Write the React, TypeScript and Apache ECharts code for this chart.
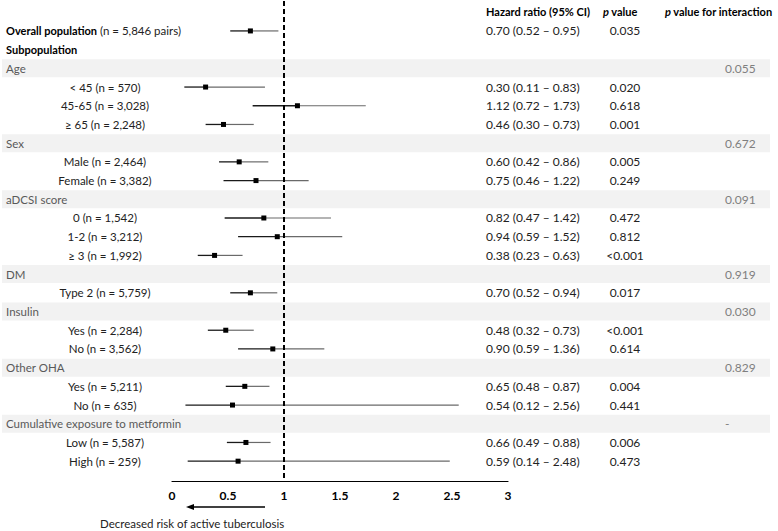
import React, { useEffect, useRef } from "react";
import * as echarts from "echarts";

// ---- data ----
const rowLabels: string[] = [
  "",
  "{b|Overall population}{n| (n = 5,846 pairs)}",
  "{b|Subpopulation}",
  "Age",
  "< 45 (n = 570)",
  "45-65 (n = 3,028)",
  "≥ 65 (n = 2,248)",
  "Sex",
  "Male (n = 2,464)",
  "Female (n = 3,382)",
  "aDCSI score",
  "0 (n = 1,542)",
  "1-2 (n = 3,212)",
  "≥ 3 (n = 1,992)",
  "DM",
  "Type 2 (n = 5,759)",
  "Insulin",
  "Yes (n = 2,284)",
  "No (n = 3,562)",
  "Other OHA",
  "Yes (n = 5,211)",
  "No (n = 635)",
  "Cumulative exposure to metformin",
  "Low (n = 5,587)",
  "High (n = 259)",
];
const rowTypes: string[] = [
  "header", "overall", "title",
  "group", "sub", "sub", "sub",
  "group", "sub", "sub",
  "group", "sub", "sub", "sub",
  "group", "sub",
  "group", "sub", "sub",
  "group", "sub", "sub",
  "group", "sub", "sub",
];
const hr: (number | null)[] = [null, 0.70, null, null, 0.30, 1.12, 0.46, null, 0.60, 0.75, null, 0.82, 0.94, 0.38, null, 0.70, null, 0.48, 0.90, null, 0.65, 0.54, null, 0.66, 0.59];
const lo: (number | null)[] = [null, 0.52, null, null, 0.11, 0.72, 0.30, null, 0.42, 0.46, null, 0.47, 0.59, 0.23, null, 0.52, null, 0.32, 0.59, null, 0.48, 0.12, null, 0.49, 0.14];
const hi: (number | null)[] = [null, 0.95, null, null, 0.83, 1.73, 0.73, null, 0.86, 1.22, null, 1.42, 1.52, 0.63, null, 0.94, null, 0.73, 1.36, null, 0.87, 2.56, null, 0.88, 2.48];
const pValues: (string | null)[] = [null, "0.035", null, null, "0.020", "0.618", "0.001", null, "0.005", "0.249", null, "0.472", "0.812", "<0.001", null, "0.017", null, "<0.001", "0.614", null, "0.004", "0.441", null, "0.006", "0.473"];
const interactionP: (string | null)[] = [null, null, null, "0.055", null, null, null, "0.672", null, null, "0.091", null, null, null, "0.919", null, "0.030", null, null, "0.829", null, null, "-", null, null];
const xTicks: number[] = [0, 0.5, 1, 1.5, 2, 2.5, 3];
const headerHR = "Hazard ratio (95% CI)";
const headerP = "{i|p} value";
const headerInter = "{i|p} value for interaction";
const footnote = "Decreased risk of active tuberculosis";

const FONT = "Lato, 'Noto Sans', sans-serif";
const FS_NUM = 12;
const FS_LAB = 11.5;
const FS_BOLD = 11;

export default function App() {
  const ref = useRef<HTMLDivElement>(null);
  useEffect(() => {
    if (!ref.current) return;
    const chart = echarts.init(ref.current, undefined, { renderer: "svg" });

    const forestData = hr
      .map((v, i) => (v == null ? null : [i, v, lo[i], hi[i]]))
      .filter((d) => d != null);
    const bandData = rowTypes.map((t, i) => (t === "group" ? [i] : null)).filter((d) => d != null);
    const textData = rowLabels.map((_, i) => [i]);

    const rich = {
      b: { fontWeight: "bold", fontFamily: FONT, fontSize: FS_BOLD, fill: "#000" },
      n: { fontFamily: FONT, fontSize: FS_LAB, fill: "#222" },
      i: { fontWeight: "bold", fontStyle: "italic", fontFamily: FONT, fontSize: FS_BOLD, fill: "#000" },
    } as any;

    chart.setOption({
      animation: false,
      grid: { left: 172, width: 336, top: 1, height: 480 },
      xAxis: {
        type: "value",
        min: 0,
        max: 3,
        interval: 0.5,
        axisLine: { show: true, onZero: false, lineStyle: { color: "#000", width: 1.2 } },
        axisTick: { show: false },
        splitLine: { show: false },
        axisLabel: {
          margin: 8,
          fontWeight: "bold",
          fontFamily: FONT,
          fontSize: 12,
          color: "#000",
          formatter: (v: number) => (xTicks.includes(v) ? String(v) : ""),
        },
      },
      yAxis: {
        type: "value",
        inverse: true,
        min: -0.6,
        max: 25.06,
        show: false,
      },
      series: [
        {
          type: "custom",
          z: 1,
          data: bandData,
          renderItem: (params: any, api: any) => {
            const y = api.coord([0, api.value(0)])[1];
            return {
              type: "rect",
              shape: { x: 2, y: y - 9, width: 768, height: 18 },
              style: { fill: "#f2f2f2" },
            };
          },
        },
        {
          type: "custom",
          z: 3,
          data: forestData,
          renderItem: (params: any, api: any) => {
            const row = api.value(0);
            const p = api.coord([api.value(1), row]);
            const pl = api.coord([api.value(2), row]);
            const pu = api.coord([api.value(3), row]);
            return {
              type: "group",
              children: [
                {
                  type: "line",
                  shape: { x1: p[0], y1: p[1], x2: pu[0], y2: pu[1] },
                  style: { stroke: "#6a6a6a", lineWidth: 1.2 },
                },
                {
                  type: "line",
                  shape: { x1: pl[0], y1: pl[1], x2: p[0], y2: p[1] },
                  style: { stroke: "#1a1a1a", lineWidth: 1.3 },
                },
                {
                  type: "rect",
                  shape: { x: p[0] - 2.5, y: p[1] - 2.5, width: 5, height: 5 },
                  style: { fill: "#000" },
                },
              ],
            };
          },
          markLine: {
            silent: true,
            symbol: "none",
            label: { show: false },
            lineStyle: { color: "#000", width: 2, type: [5, 3] },
            data: [{ xAxis: 1 }],
          },
        },
        {
          type: "custom",
          z: 4,
          data: textData,
          renderItem: (params: any, api: any) => {
            const i = api.value(0);
            const y = api.coord([0, i])[1];
            const t = rowTypes[i];
            const children: any[] = [];
            const num = { fontFamily: FONT, fontSize: FS_NUM, verticalAlign: "middle" };
            const lab = { fontFamily: FONT, fontSize: FS_LAB, verticalAlign: "middle" };
            const hd = { fontFamily: FONT, fontSize: FS_BOLD, fontWeight: "bold", verticalAlign: "middle", fill: "#000" };
            if (t === "header") {
              children.push({ type: "text", style: { ...hd, text: headerHR, x: 486, y: y - 1, align: "left" } });
              children.push({ type: "text", style: { ...hd, text: headerP, rich, x: 603, y: y - 1, align: "left" } });
              children.push({ type: "text", style: { ...hd, text: headerInter, rich, x: 665, y: y - 1, align: "left" } });
            } else if (t === "overall" || t === "title") {
              children.push({ type: "text", style: { ...lab, text: rowLabels[i], rich, x: 6, y, fill: "#222", align: "left" } });
            } else if (t === "group") {
              children.push({ type: "text", style: { ...lab, text: rowLabels[i], x: 6, y, fill: "#595959", align: "left" } });
            } else {
              children.push({ type: "text", style: { ...lab, text: rowLabels[i], x: 105, y, fill: "#222", align: "center" } });
            }
            if (hr[i] != null) {
              const s = `${(hr[i] as number).toFixed(2)} (${(lo[i] as number).toFixed(2)} – ${(hi[i] as number).toFixed(2)})`;
              children.push({ type: "text", style: { ...num, text: s, x: 486, y, fill: "#222", align: "left" } });
            }
            if (pValues[i]) {
              children.push({ type: "text", style: { ...num, text: pValues[i], x: 625, y, fill: "#222", align: "center" } });
            }
            if (interactionP[i]) {
              children.push({ type: "text", style: { ...num, text: interactionP[i], x: 725, y, fill: "#7f7f7f", align: "left" } });
            }
            return { type: "group", children };
          },
        },
      ],
      graphic: [
        {
          type: "line",
          shape: { x1: 192, y1: 507, x2: 265, y2: 507 },
          style: { stroke: "#000", lineWidth: 1.3 },
        },
        {
          type: "polygon",
          shape: { points: [[186, 507], [194, 504], [194, 510]] },
          style: { fill: "#000" },
        },
        {
          type: "text",
          style: { text: footnote, x: 100, y: 523, fontFamily: FONT, fontSize: 11.5, fill: "#222", verticalAlign: "middle" },
        },
      ],
    });
    return () => chart.dispose();
  }, []);
  return (
    <div
      ref={ref}
      style={{ position: "fixed", left: 0, top: 0, width: 778, height: 531, background: "#fff" }}
    />
  );
}
